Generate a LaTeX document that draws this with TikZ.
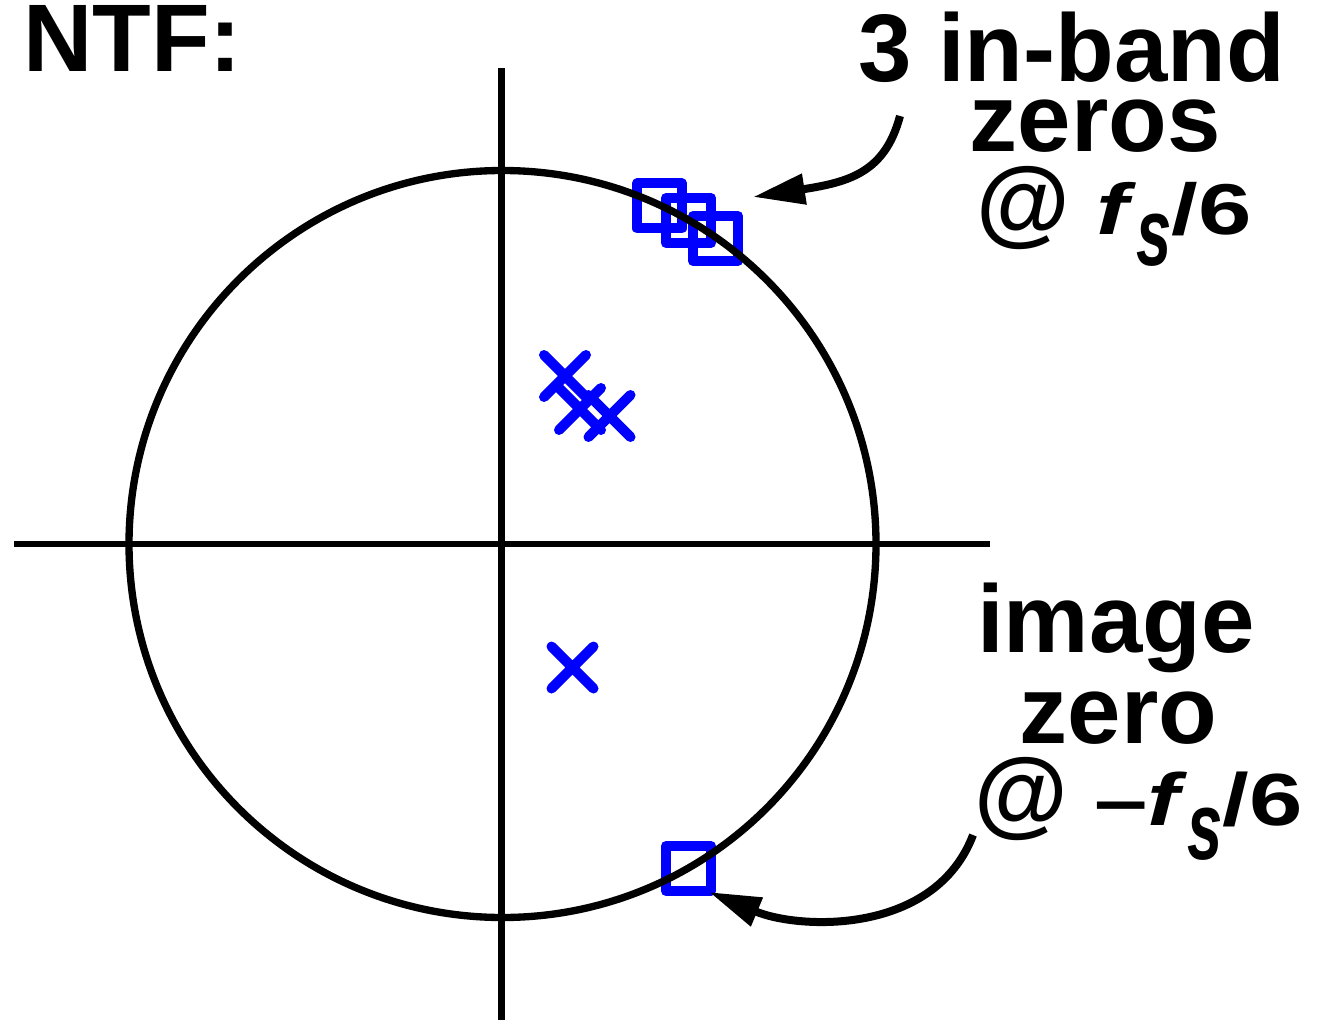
\documentclass[tikz,border=0pt]{standalone}
\usepackage{fontspec}
\setmainfont{Liberation Sans}
\usetikzlibrary{arrows.meta,shapes.misc}
\definecolor{zblue}{RGB}{0,0,255}
\begin{document}
\begin{tikzpicture}[x=0.75pt,y=-0.75pt,
  lbl/.style={font=\fontsize{72}{80}\selectfont\bfseries, inner sep=0pt, anchor=base},
  zeromark/.style={draw=zblue, line width=7.5pt, line join=round, rectangle, minimum size=33.75pt, inner sep=0pt, outer sep=0pt},
  polemark/.style={draw=zblue, line width=7.5pt, line cap=round, cross out, minimum size=31.5pt, inner sep=0pt, outer sep=0pt},
  axisline/.style={line width=5pt},
  ucircle/.style={line width=5.5pt},
  ptr/.style={line width=6pt, -{Triangle[length=39pt,width=22pt]}}]
\useasboundingbox (0,0) rectangle (1319,1023);

% zeros (drawn first, circle passes over them)
\node[zeromark] (z1) at (659.5,206) {};
\node[zeromark] (z2) at (688.5,220.5) {};
\node[zeromark] (z3) at (715.5,238.5) {};
\node[zeromark] (zimg) at (688.5,868.5) {};

% unit circle and axes
\coordinate (o) at (502.5,544);
\draw[ucircle] (o) circle[radius=373.5];
\coordinate (xl) at (14,544);
\coordinate (xr) at (990,544);
\coordinate (yt) at (501.5,68);
\coordinate (yb) at (501.5,1020);
\draw[axisline] (xl) -- (xr);
\draw[axisline] (yt) -- (yb);

% poles
\node[polemark] (p1) at (565,376) {};
\node[polemark] (p2) at (580,409) {};
\node[polemark] (p3) at (609.5,416) {};
\node[polemark] (p4) at (572.5,667.5) {};

% labels
\node[lbl, anchor=base west] (ntf) at (23,72) {NTF:};
\node[lbl] (t1) at (1071.5,82) {3 in-band};
\node[lbl] (t2) at (1095,152) {zeros};
\node[lbl] (t3) at (1114,235) {@ \scalebox{1}[0.75]{\textit{f}}\raisebox{-23pt}{\scalebox{0.66}[1]{\textit{s}}}\scalebox{1}[0.75]{/6}};
\node[lbl] (t4) at (1116,652) {image};
\node[lbl] (t5) at (1118.5,743) {zero};
\node[lbl] (t6) at (1138.5,825) {@ \scalebox{1}[0.77]{–\textit{f}}\raisebox{-26pt}{\scalebox{0.66}[1]{\textit{s}}}\scalebox{1}[0.77]{/6}};

% pointers
\coordinate (a1s) at (900,116);
\coordinate (a1e) at (753,197);
\draw[ptr] (a1s) .. controls (885,172) and (850,182) .. (a1e);
\coordinate (a2s) at (973,835);
\coordinate (a2e) at (709,892);
\draw[ptr] (a2s) .. controls (935,935) and (800,930) .. (a2e);
\end{tikzpicture}
\end{document}
